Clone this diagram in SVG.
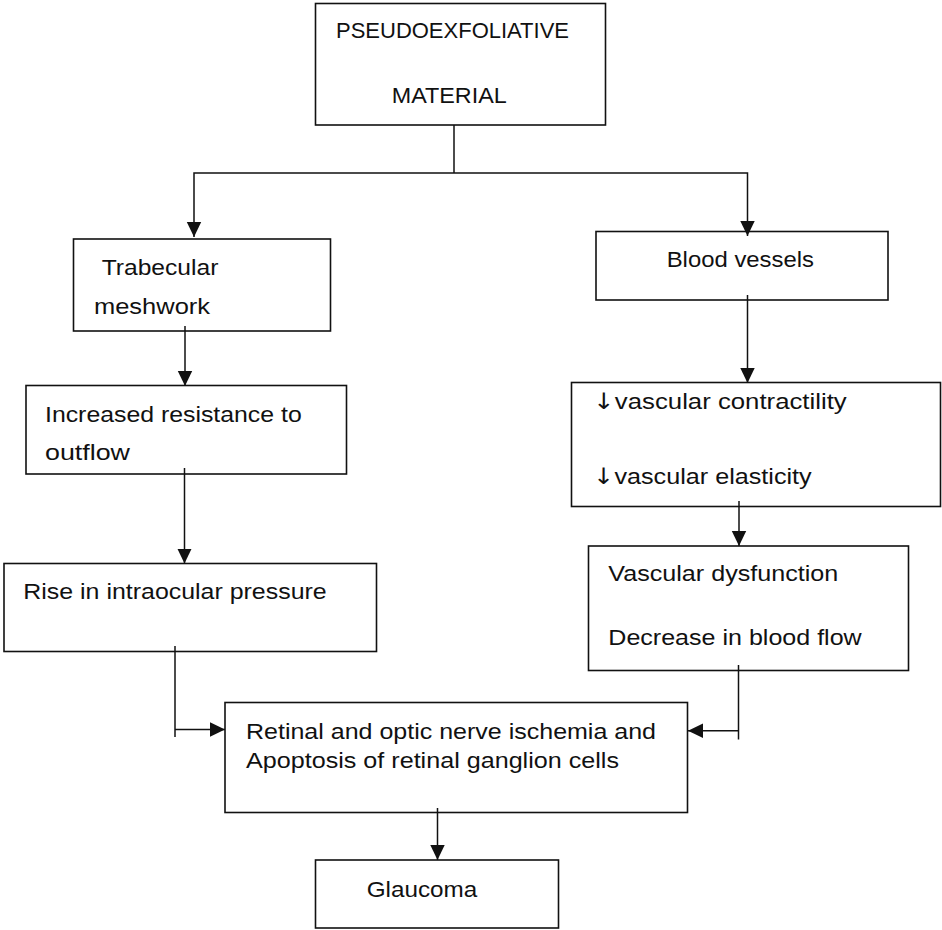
<svg xmlns="http://www.w3.org/2000/svg" width="942" height="930" viewBox="0 0 942 930">
<style>
  .box { fill: #ffffff; stroke: #111111; stroke-width: 1.6; }
  .lbl { font-family: "Liberation Sans", Arial, sans-serif; font-size: 22.5px; fill: #111111; }
  .arr { font-family: "DejaVu Sans", sans-serif; }
  .con { fill: none; stroke: #111111; stroke-width: 1.5; }
</style>
<defs>
  <marker id="ah" markerUnits="userSpaceOnUse" markerWidth="16" markerHeight="16" viewBox="0 0 16 16" refX="15" refY="8" orient="auto">
    <path d="M0,0.8 L15,8 L0,15.2 Z" fill="#111111"/>
  </marker>
</defs>
<rect x="0" y="0" width="942" height="930" fill="#ffffff"/>

<g id="pseudoexfoliative">
  <rect class="box" x="315.5" y="3.5" width="290" height="121.5"/>
  <text class="lbl" x="336" y="38" textLength="233" lengthAdjust="spacingAndGlyphs">PSEUDOEXFOLIATIVE</text>
  <text class="lbl" x="391.7" y="102.7" textLength="115" lengthAdjust="spacingAndGlyphs">MATERIAL</text>
</g>

<g id="trabecular">
  <rect class="box" x="73.5" y="239" width="257" height="92"/>
  <text class="lbl" x="101.7" y="275" textLength="116.7" lengthAdjust="spacingAndGlyphs">Trabecular</text>
  <text class="lbl" x="94" y="314" textLength="116" lengthAdjust="spacingAndGlyphs">meshwork</text>
</g>

<g id="blood-vessels">
  <rect class="box" x="596" y="231.5" width="292" height="68.5"/>
  <text class="lbl" x="666.7" y="267.3" textLength="147.3" lengthAdjust="spacingAndGlyphs">Blood vessels</text>
</g>

<g id="increased-resistance">
  <rect class="box" x="26" y="385.5" width="320.5" height="88.5"/>
  <text class="lbl" x="45" y="421.7" textLength="256.7" lengthAdjust="spacingAndGlyphs">Increased resistance to</text>
  <text class="lbl" x="45" y="460" textLength="85" lengthAdjust="spacingAndGlyphs">outflow</text>
</g>

<g id="vascular">
  <rect class="box" x="571.5" y="382.5" width="369" height="124"/>
  <text class="lbl" x="593.3" y="409.3" textLength="253.4" lengthAdjust="spacingAndGlyphs"><tspan class="arr">↓</tspan>vascular contractility</text>
  <text class="lbl" x="593.3" y="484" textLength="218.4" lengthAdjust="spacingAndGlyphs"><tspan class="arr">↓</tspan>vascular elasticity</text>
</g>

<g id="rise-iop">
  <rect class="box" x="4" y="563.5" width="372.5" height="88"/>
  <text class="lbl" x="23.3" y="599" textLength="303.4" lengthAdjust="spacingAndGlyphs">Rise in intraocular pressure</text>
</g>

<g id="vascular-dysfunction">
  <rect class="box" x="588.5" y="546" width="320" height="124.5"/>
  <text class="lbl" x="608.3" y="580.7" textLength="230" lengthAdjust="spacingAndGlyphs">Vascular dysfunction</text>
  <text class="lbl" x="608.3" y="645" textLength="253.4" lengthAdjust="spacingAndGlyphs">Decrease in blood flow</text>
</g>

<g id="retinal-ischemia">
  <rect class="box" x="225" y="702.5" width="462.5" height="110"/>
  <text class="lbl" x="246" y="739.3" textLength="410" lengthAdjust="spacingAndGlyphs">Retinal and optic nerve ischemia and</text>
  <text class="lbl" x="246" y="768.3" textLength="373" lengthAdjust="spacingAndGlyphs">Apoptosis of retinal ganglion cells</text>
</g>

<g id="glaucoma">
  <rect class="box" x="315.5" y="860" width="243" height="68"/>
  <text class="lbl" x="366.7" y="896.7" textLength="110.6" lengthAdjust="spacingAndGlyphs">Glaucoma</text>
</g>

<g id="connectors">
  <path class="con" d="M454,125 V173"/>
  <path class="con" d="M454,173 H194 V237" marker-end="url(#ah)"/>
  <path class="con" d="M454,173 H747.5 V236" marker-end="url(#ah)"/>
  <path class="con" d="M185,326 V386" marker-end="url(#ah)"/>
  <path class="con" d="M747.5,295 V383" marker-end="url(#ah)"/>
  <path class="con" d="M184.5,468 V563.5" marker-end="url(#ah)"/>
  <path class="con" d="M739,501 V546" marker-end="url(#ah)"/>
  <path class="con" d="M175,646 V737"/>
  <path class="con" d="M175,729.5 H225" marker-end="url(#ah)"/>
  <path class="con" d="M738.5,665 V739.5"/>
  <path class="con" d="M738.5,730.7 H688" marker-end="url(#ah)"/>
  <path class="con" d="M437.5,808 V860" marker-end="url(#ah)"/>
</g>
</svg>
